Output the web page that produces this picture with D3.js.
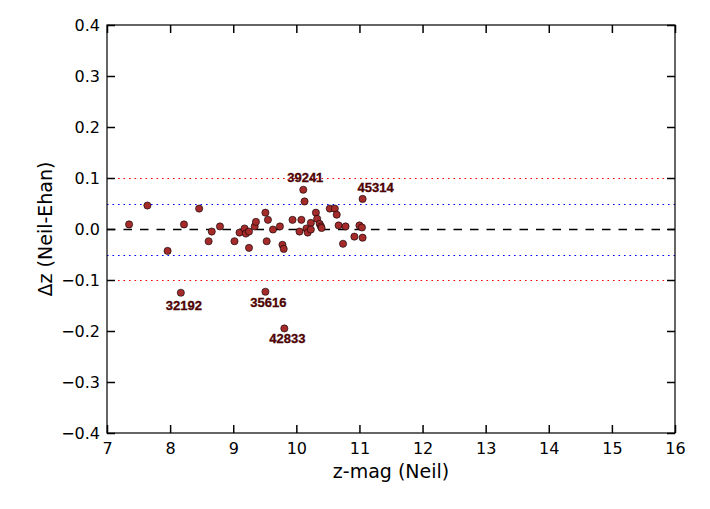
<!DOCTYPE html>
<html>
<head>
<meta charset="utf-8">
<script src="https://cdn.jsdelivr.net/npm/d3@7"></script>
<style>
  html, body { margin: 0; padding: 0; background: #fff; }
  svg { display: block; font-family: "DejaVu Sans", sans-serif; }
</style>
</head>
<body>
<svg id="chart" width="710" height="509"></svg>
<script>
// ---- data ----
const zmag = [7.35, 7.64, 7.96, 8.17, 8.22, 8.46, 8.61, 8.66, 8.79, 9.02,
              9.10, 9.18, 9.20, 9.25, 9.25, 9.34, 9.36, 9.51, 9.55, 9.51,
              9.53, 9.63, 9.74, 9.78, 9.80, 9.81, 9.94, 10.05, 10.08, 10.11,
              10.13, 10.16, 10.18, 10.23, 10.23, 10.31, 10.33, 10.37, 10.39, 10.40,
              10.53, 10.61, 10.64, 10.67, 10.74, 10.78, 10.92, 11.00, 11.04, 11.05,
              11.05];
const dz   = [0.009, 0.046, -0.043, -0.125, 0.009, 0.040, -0.024, -0.005, 0.005, -0.024,
              -0.007, 0.001, -0.009, -0.005, -0.037, 0.005, 0.014, 0.032, 0.018, -0.123,
              -0.024, -0.001, 0.005, -0.031, -0.039, -0.195, 0.018, -0.005, 0.018, 0.077,
              0.054, 0.001, -0.007, 0.012, -0.001, 0.032, 0.020, 0.010, 0.005, 0.002,
              0.040, 0.040, 0.028, 0.007, -0.029, 0.005, -0.015, 0.007, 0.003, -0.017,
              0.059];
const labelIds   = ["32192", "35616", "42833", "39241", "45314"];
const labelIndex = [3, 19, 25, 29, 50];
const xTicks = [7, 8, 9, 10, 11, 12, 13, 14, 15, 16];
const yTicks = [-0.4, -0.3, -0.2, -0.1, 0.0, 0.1, 0.2, 0.3, 0.4];
const refLevels = [0.1, -0.1, 0.05, -0.05, 0.0];
const refColors = ["red", "red", "blue", "blue", "black"];

// ---- layout ----
const L = 107, R = 675, T = 25, B = 433;
const svg = d3.select("#chart");
const x = d3.scaleLinear().domain([7, 16]).range([L, R]);
const y = d3.scaleLinear().domain([-0.4, 0.4]).range([B, T]);

const fmtY = v => (v < 0 ? "\u2212" : "") + Math.abs(v).toFixed(1);
const crisp = v => Math.round(v) + 0.5;

// reference lines
svg.append("g").selectAll("line").data(refLevels).join("line")
  .attr("x1", L).attr("x2", R)
  .attr("y1", d => crisp(y(d))).attr("y2", d => crisp(y(d)))
  .attr("stroke", (d, i) => refColors[i])
  .attr("stroke-width", (d, i) => refColors[i] === "black" ? 1.4 : 1.2)
  .attr("stroke-dasharray", (d, i) => refColors[i] === "black" ? "8.5,8" : "1.6,3.9");

// axes with inward ticks
const tickLen = 8;
const gB = svg.append("g").attr("transform", `translate(0,${B})`)
  .call(d3.axisBottom(x).tickValues(xTicks).tickSizeInner(-tickLen).tickSizeOuter(0).tickPadding(10).tickFormat(d3.format("d")));
const gT = svg.append("g").attr("transform", `translate(0,${T})`)
  .call(d3.axisTop(x).tickValues(xTicks).tickSizeInner(-tickLen).tickSizeOuter(0).tickFormat(""));
const gL = svg.append("g").attr("transform", `translate(${L},0)`)
  .call(d3.axisLeft(y).tickValues(yTicks).tickSizeInner(-tickLen).tickSizeOuter(0).tickPadding(7).tickFormat(fmtY));
const gR = svg.append("g").attr("transform", `translate(${R},0)`)
  .call(d3.axisRight(y).tickValues(yTicks).tickSizeInner(-tickLen).tickSizeOuter(0).tickFormat(""));

[gB, gT, gL, gR].forEach(g => {
  g.select(".domain").remove();
  g.selectAll(".tick line").attr("stroke", "#000").attr("stroke-width", 1.5);
  g.selectAll(".tick text").attr("fill", "#000")
    .style("font-size", "16px").style("font-family", "'DejaVu Sans', sans-serif");
});
gB.selectAll(".tick text").attr("dy", "0.71em");

// frame
svg.append("rect").attr("x", L).attr("y", T).attr("width", R - L).attr("height", B - T)
  .attr("fill", "none").attr("stroke", "#000").attr("stroke-width", 1.2);

// points
svg.append("g").selectAll("circle").data(zmag.map((v, i) => [v, dz[i]])).join("circle")
  .attr("cx", d => x(d[0])).attr("cy", d => y(d[1])).attr("r", 3.6)
  .attr("fill", "#a52a2a").attr("stroke", "#000").attr("stroke-width", 0.6);

// point labels
const labelOffsets = { "32192": [3, 17], "35616": [3, 15], "42833": [3, 15], "39241": [2, -8], "45314": [13, -7] };
svg.append("g").selectAll("text").data(labelIds).join("text")
  .attr("x", (d, i) => x(zmag[labelIndex[i]]) + labelOffsets[d][0])
  .attr("y", (d, i) => y(dz[labelIndex[i]]) + labelOffsets[d][1])
  .attr("text-anchor", "middle")
  .style("font-family", "'Liberation Sans', Arial, sans-serif")
  .style("font-weight", "bold").style("font-size", "13px")
  .attr("fill", "#5a0000").attr("stroke", "#2a0000").attr("stroke-width", 0.3)
  .text(d => d);

// axis labels
svg.append("text").attr("x", (L + R) / 2).attr("y", 478)
  .attr("text-anchor", "middle").style("font-size", "19px").attr("fill", "#000")
  .text("z-mag (Neil)");
svg.append("text").attr("transform", `translate(52,${(T + B) / 2}) rotate(-90)`)
  .attr("text-anchor", "middle").style("font-size", "19px").attr("fill", "#000")
  .text("\u0394z (Neil-Ehan)");
</script>
</body>
</html>
